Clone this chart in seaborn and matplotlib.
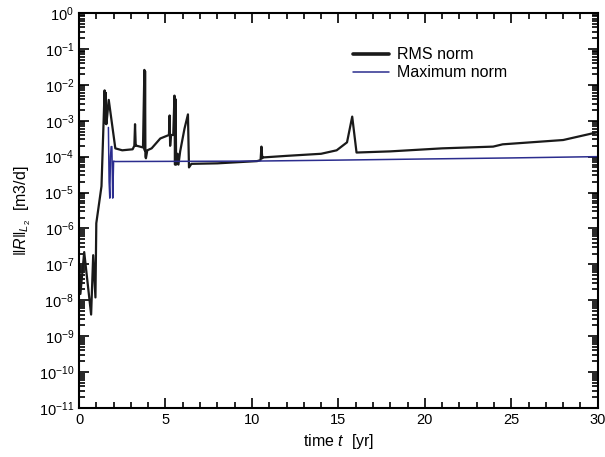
import numpy as np
import pandas as pd
import seaborn as sns
import matplotlib.pyplot as plt
from matplotlib.ticker import FixedLocator, FuncFormatter, NullLocator

# RMS norm of the residual
rms_t = [0.02, 0.08, 0.3, 0.7, 0.82, 0.95, 1.0, 1.3, 1.48, 1.52, 1.55, 1.58, 1.62, 1.72,
         2.1, 2.5, 3.1, 3.2, 3.24, 3.28, 3.35, 3.7, 3.78, 3.8, 3.82, 3.84, 3.87, 3.95,
         4.2, 4.7, 5.2, 5.24, 5.27, 5.32, 5.45, 5.52, 5.55, 5.58, 5.62, 5.7, 5.75, 5.85,
         6.1, 6.3, 6.36, 6.5, 8.0, 10.3, 10.5, 10.55, 10.6, 10.65, 12.0, 14.0, 14.9,
         15.5, 15.8, 16.05, 18.0, 21.0, 23.95, 24.5, 28.0, 30.0]
rms_v = [1e-7, 1.5e-8, 2.2e-7, 4e-9, 1.8e-7, 1.2e-8, 1.4e-6, 1.5e-5, 7e-3, 8.5e-4, 6e-3, 8e-4, 1.2e-3, 3.8e-3,
         1.7e-4, 1.5e-4, 1.6e-4, 2e-4, 8e-4, 2e-4, 2e-4, 1.8e-4, 2.6e-2, 1.5e-4, 2.4e-2, 1e-4, 9e-5, 1.5e-4,
         1.7e-4, 3.2e-4, 4e-4, 1.4e-3, 2e-4, 4e-4, 4e-4, 5e-3, 6e-5, 4e-3, 6e-5, 1.2e-4, 6e-5, 1.4e-4,
         6e-4, 1.5e-3, 5e-5, 6.3e-5, 6.5e-5, 7.5e-5, 8e-5, 1.9e-4, 9e-5, 9.5e-5, 1.05e-4, 1.2e-4, 1.5e-4,
         2.5e-4, 1.3e-3, 1.3e-4, 1.4e-4, 1.7e-4, 1.9e-4, 2.2e-4, 2.9e-4, 4.8e-4]

# maximum norm
max_t = [1.70, 1.74, 1.78, 1.82, 1.86, 1.90, 1.95, 2.0, 2.1, 10.0, 15.0, 20.0, 25.0, 30.0]
max_v = [6.5e-4, 2e-5, 7e-6, 1e-4, 1.9e-4, 1.9e-4, 7e-6, 7.5e-5, 7.3e-5, 7.5e-5, 8e-5, 8.6e-5, 9.2e-5, 1e-4]

sns.set_style("ticks")
plt.rcParams['font.family'] = ['Liberation Sans', 'DejaVu Sans']
plt.rcParams['mathtext.fontset'] = 'custom'
plt.rcParams['mathtext.rm'] = 'Liberation Sans'
plt.rcParams['mathtext.it'] = 'Liberation Sans:italic'
plt.rcParams['text.color'] = 'black'
plt.rcParams['axes.labelcolor'] = 'black'

fig = plt.figure(figsize=(6.05, 4.57), dpi=100)
ax = fig.add_axes([0.1306, 0.1072, 0.8574, 0.8644])

rms = pd.DataFrame({'t': rms_t, 'v': rms_v})
mx = pd.DataFrame({'t': max_t, 'v': max_v})
sns.lineplot(data=rms, x='t', y='v', ax=ax, color='#1a1a1a', lw=1.6,
             sort=False, estimator=None, label='RMS norm')
sns.lineplot(data=mx, x='t', y='v', ax=ax, color='#2b2d8e', lw=1.1,
             sort=False, estimator=None, label='Maximum norm')

ax.set_yscale('log')
ax.set_xlim(0, 30)
ax.set_ylim(1e-11, 1)

ax.set_xlabel(r'time $t$  [yr]', fontsize=11.5)
ax.set_ylabel(r'$\|R\|_{L_2}$  [m3/d]', fontsize=11.5)

leg = ax.legend(loc='upper left', bbox_to_anchor=(0.5, 0.95), frameon=False, fontsize=11.5,
                handlelength=2.3, handletextpad=0.5, labelspacing=0.2)
leg.get_lines()[0].set_linewidth(2.6)

# all ticks as "major" ones, labels only on decades / every 5 yr
decades = [10.0 ** e for e in range(-11, 1)]
y_ticks = sorted(decades + [m * 10.0 ** e for e in range(-11, 0) for m in range(2, 10)])
x_ticks = list(range(0, 31))


def y_fmt(v, pos):
    e = np.log10(v)
    if abs(e - round(e)) < 1e-6:
        return r'$\mathdefault{10^{%d}}$' % round(e)
    return ''


def x_fmt(v, pos):
    return '%d' % v if round(v) % 5 == 0 else ''


ax.yaxis.set_major_locator(FixedLocator(y_ticks))
ax.yaxis.set_major_formatter(FuncFormatter(y_fmt))
ax.yaxis.set_minor_locator(NullLocator())
ax.xaxis.set_major_locator(FixedLocator(x_ticks))
ax.xaxis.set_major_formatter(FuncFormatter(x_fmt))
ax.xaxis.set_minor_locator(NullLocator())
ax.tick_params(axis='both', which='major', direction='in', length=7, width=1.2,
               top=True, right=True, labelsize=10.5, color='black', labelcolor='black')

for tick, v in zip(ax.yaxis.get_major_ticks(), y_ticks):
    if v not in decades:
        tick.tick1line.set_markersize(4)
        tick.tick2line.set_markersize(4)
for tick, v in zip(ax.xaxis.get_major_ticks(), x_ticks):
    if v % 5 != 0:
        tick.tick1line.set_markersize(4)
        tick.tick2line.set_markersize(4)

for s in ax.spines.values():
    s.set_linewidth(1.5)
    s.set_color('black')

fig.savefig('out.png', dpi=100)
